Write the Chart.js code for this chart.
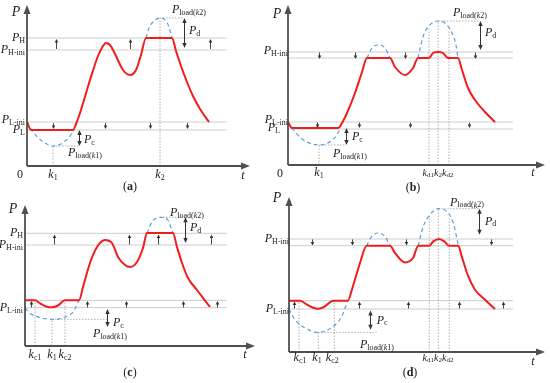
<!DOCTYPE html>
<html><head><meta charset="utf-8">
<script src="https://cdn.jsdelivr.net/npm/chart.js@4.4.1/dist/chart.umd.min.js"></script>
<style>
html,body{margin:0;padding:0;background:#fff;}
#wrap{position:relative;width:550px;height:383px;overflow:hidden;background:#fff;}
canvas{position:absolute;left:0;top:0;}
</style></head><body><div id="wrap">
<canvas id="cA" width="550" height="383"></canvas>
<canvas id="cB" width="550" height="383"></canvas>
<canvas id="cC" width="550" height="383"></canvas>
<canvas id="cD" width="550" height="383"></canvas>
</div>
<script>
// ---------- data (t, P) ----------
// panel (a)
const redA = [[0,44],[4,36],[46,36],[49,42],[53,53],[63,86],[71,110],[76,120],[79,123],[83,121],[89,110],[96,96],[103,91],[109,96],[114,111],[119,128],[145,128],[149,115],[154,100],[160,84],[166,70],[173,57],[182,44]];
const blueA1 = [[0,44],[7,33],[15,25],[26,20],[37,24],[45,33],[50,45]];
const blueA2 = [[119,128],[122,138],[127,145],[133,148],[138,146],[142,139],[145,128]];
const levelsA = [128,116,44,36];
const upArrowsA = [29,103,183];
const lowArrowsA = [26,78,123,160];
// panel (b)
const redB = [[0,43],[4,37],[50,37],[54,42],[59,52],[67,72],[74,93],[79,107],[102,107],[107,98],[117,90],[125,97],[130,107],[141,107],[145,112],[150,113],[155,112],[160,107],[170,107],[174,95],[180,77],[187,65],[197,53],[207,43]];
const blueB1 = [[0,43],[7,33],[17,24],[31,20],[43,24],[50,32],[54,42]];
const blueB2 = [[79,107],[84,117],[90,120],[97,117],[102,107]];
const blueB3 = [[130,107],[135,128],[140,138],[150,144],[157,142],[164,132],[168,120],[170,107]];
const levelsB = [113,107,43,36];
const upArrowsB = [31,67,117,187];
const lowArrowsB = [29,71,122,181];
// panel (c)
const redC = [[0,45.7],[10,45.7],[15,42.7],[22,39.3],[27,38.7],[33,40.5],[40,45.7],[54,45.7],[58,59],[65,83],[72,99],[80,106],[87,103],[93,89],[100,81],[105,79],[112,84],[118,98],[122,113],[148,113],[152,99],[157,83],[163,68],[172,56],[185,39]];
const blueC1 = [[0,37.7],[6,32],[15,28.5],[27,26.7],[39,28.5],[48,34],[54,45.7]];
const blueC2 = [[122,113],[127,124],[135,128.7],[142,127],[148,113]];
const levelsC = [112.7,101,45.7,38.3];
const upArrowsC = [29.3,104.3,133.3,185.7];
const lowArrowsC = [5.7,61.7,101,158.3,192.3];
// panel (d)
const redD = [[0,51.3],[11,51.3],[18,47.3],[24,44.3],[29.3,43.3],[35,45],[44.3,51.3],[58.7,51.3],[64,66],[71,89],[77.7,106.3],[101,106.3],[106,99],[116,89.6],[124,94],[129.3,106.3],[140.3,106.3],[144.3,110.6],[150,113],[155.3,110.6],[160,106.3],[169.3,106.3],[172.7,95.6],[179.3,75.6],[186,62.3],[196,52.3],[206,43]];
const blueD1 = [[0,43],[6,32.3],[16,24],[29.3,19.6],[44.3,25.6],[52.7,35.6],[58.7,51.3]];
const blueD2 = [[77.7,106.3],[82.7,115.6],[89.3,119],[96,115.6],[101,106.3]];
const blueD3 = [[129.3,106.3],[134.3,125.6],[141,137.3],[149.3,143.3],[157.7,140.6],[164.3,129],[169.3,106.3]];
const levelsD = [113,106.3,51.3,43];
const upArrowsD = [22.7,62.7,116.7,202];
const lowArrowsD = [5.3,70,118.7,170.3,213.7];

// ---------- text helpers ----------
const SERIF = '"Liberation Serif","Times New Roman",serif';
const Psub = s => [['P','i'],[s,'s']];
const Pload = n => [['P','i'],['load(','s'],['k','si'],[n+')','s']];
const kk = s => [['k','i'],[s,'s']];
const kd = [['k','i'],['d1','s'],['k','i'],['2','s'],['k','i'],['d2','s']];
const cap = c => [['(','n'],[c,'b'],[')','n']];

function drawRich(ctx, parts, x, y, align, size) {
  const m = size || 12, sb = Math.round(m*0.66);
  const f = {i:`italic ${m}px ${SERIF}`, n:`${m}px ${SERIF}`, b:`bold ${m}px ${SERIF}`,
             s:`${sb}px ${SERIF}`, si:`italic ${sb}px ${SERIF}`};
  let w = 0;
  for (const [t,s] of parts) { ctx.font = f[s]; w += ctx.measureText(t).width; }
  let cx = align==='right' ? x-w : align==='center' ? x-w/2 : x;
  ctx.textBaseline = 'middle'; ctx.textAlign = 'left'; ctx.fillStyle = '#222';
  for (const [t,s] of parts) {
    ctx.font = f[s];
    const dy = (s==='s'||s==='si') ? m*0.25 : 0;
    ctx.fillText(t, cx, y+dy);
    cx += ctx.measureText(t).width;
  }
}
function head(ctx, x, y, dir, len, hw) {
  ctx.beginPath();
  if (dir==='up') { ctx.moveTo(x,y); ctx.lineTo(x-hw,y+len); ctx.lineTo(x+hw,y+len); }
  else if (dir==='down') { ctx.moveTo(x,y); ctx.lineTo(x-hw,y-len); ctx.lineTo(x+hw,y-len); }
  else { ctx.moveTo(x,y); ctx.lineTo(x-len,y-hw); ctx.lineTo(x-len,y+hw); }
  ctx.closePath(); ctx.fill();
}

const pts = a => a.map(([x,y]) => ({x, y}));

function makePanel(id, cfg) {
  const ds = [];
  ds.push({data: pts(cfg.red), borderColor:'#f21c1c', borderWidth:2, cubicInterpolationMode:'monotone', order:0});
  cfg.blues.forEach(b => ds.push({data: pts(b), borderColor:'#5a9fd8', borderWidth:1.2, borderDash:[4,3], cubicInterpolationMode:'monotone', order:1}));
  cfg.levels.forEach(l => ds.push({data:[{x:0,y:l},{x:cfg.levelEnd,y:l}], borderColor:'#cdcdcd', borderWidth:1, order:3}));
  cfg.vdots.forEach(([t,p]) => ds.push({data:[{x:t,y:0},{x:t,y:p}], borderColor:'#9a9a9a', borderWidth:0.8, borderDash:[1.5,1.5], order:2}));
  cfg.hdots.forEach(([t1,t2,p]) => ds.push({data:[{x:t1,y:p},{x:t2,y:p}], borderColor:'#9a9a9a', borderWidth:0.8, borderDash:[1.5,1.5], order:2}));
  ds.forEach(d => { d.pointRadius = 0; d.fill = false; d.clip = false; });

  const deco = {
    id: 'deco'+id,
    afterDatasetsDraw(chart) {
      const ctx = chart.ctx, xs = chart.scales.x, ys = chart.scales.y;
      const X = v => xs.getPixelForValue(v), Y = v => ys.getPixelForValue(v);
      ctx.save();
      // axes
      ctx.strokeStyle = '#4f4f4f'; ctx.fillStyle = '#4f4f4f'; ctx.lineWidth = 1.8;
      const x0 = X(0), y0 = Y(0), xe = X(cfg.xmax), ye = Y(cfg.ymax);
      ctx.beginPath(); ctx.moveTo(x0, y0); ctx.lineTo(x0, ye+7); ctx.stroke();
      head(ctx, x0, ye, 'up', 9, 3.5);
      ctx.beginPath(); ctx.moveTo(x0, y0); ctx.lineTo(xe-7, y0); ctx.stroke();
      head(ctx, xe, y0, 'right', 9, 3.5);
      // small arrows in the bands
      ctx.strokeStyle = '#333'; ctx.fillStyle = '#333'; ctx.lineWidth = 0.9;
      cfg.bands.forEach(b => {
        const dir = b.to > b.from ? 'up' : 'down';
        b.ts.forEach(t => {
          const xa = Math.round(X(t))+0.5, ya = Y(b.from), yb = Y(b.to);
          ctx.beginPath(); ctx.moveTo(xa, ya); ctx.lineTo(xa, dir==='up'? yb+2 : yb-2); ctx.stroke();
          head(ctx, xa, yb, dir, 3.5, 1.8);
        });
      });
      // double arrows (P_c, P_d)
      ctx.strokeStyle = '#333'; ctx.fillStyle = '#333'; ctx.lineWidth = 1;
      cfg.dbl.forEach(([t,p1,p2]) => {
        const xa = Math.round(X(t))+0.5, ya = Y(p1), yb = Y(p2);
        const top = Math.min(ya,yb), bot = Math.max(ya,yb);
        ctx.beginPath(); ctx.moveTo(xa, top+3); ctx.lineTo(xa, bot-3); ctx.stroke();
        head(ctx, xa, top, 'up', 5, 2.2); head(ctx, xa, bot, 'down', 5, 2.2);
      });
      // labels
      cfg.labels.forEach(([parts,t,p,al,sz]) => drawRich(ctx, parts, X(t), Y(p), al, sz));
      ctx.restore();
    }
  };

  new Chart(document.getElementById(id), {
    type: 'line',
    data: {datasets: ds},
    options: {
      responsive:false, animation:false, events:[],
      layout:{padding: cfg.pad},
      scales:{ x:{type:'linear', min:0, max:cfg.xmax, display:false},
               y:{type:'linear', min:0, max:cfg.ymax, display:false} },
      plugins:{legend:{display:false}, tooltip:{enabled:false}}
    },
    plugins:[deco]
  });
}

makePanel('cA', {
  pad:{left:27,right:300,top:5,bottom:217}, xmax:223, ymax:161,
  red:redA, blues:[blueA1,blueA2], levels:levelsA, levelEnd:200,
  bands:[{ts:upArrowsA, from:117, to:127},{ts:lowArrowsA, from:43, to:37}],
  vdots:[[26,20],[133,148]], hdots:[[26,52,20],[133,157,148]], dbl:[[52,36,20],[157,148,118]],
  labels:[
    [[['P','i']],-11,154,'center',14],
    [Psub('H'),-2,128,'right'],[Psub('H-ini'),-2,116,'right'],
    [Psub('L-ini'),-2,46,'right'],[Psub('L'),-2,36,'right'],
    [[['0','n']],-7,-9,'center'],
    [kk('1'),26,-9,'center'],[kk('2'),133,-9,'center'],
    [[['t','i']],216,-10,'center'],
    [Psub('c'),57,26,'left'],[Pload('1'),41,13,'left'],
    [Pload('2'),145,156,'left'],[Psub('d'),162,135,'left'],
    [cap('a'),103,-21,'center']
  ]
});
makePanel('cB', {
  pad:{left:288,right:5,top:5,bottom:218}, xmax:257, ymax:160,
  red:redB, blues:[blueB1,blueB2,blueB3], levels:levelsB, levelEnd:225,
  bands:[{ts:upArrowsB, from:112.5, to:106},{ts:lowArrowsB, from:42.5, to:37}],
  vdots:[[31,20],[141,138],[150,144],[161,136]], hdots:[[31,58,20],[150,192,144]], dbl:[[58,37,20],[192,144,115]],
  labels:[
    [[['P','i']],-11,151,'center',14],
    [Psub('H-ini'),0,114,'right'],
    [Psub('L-ini'),0,45,'right'],[Psub('L'),-8,37,'right'],
    [[['0','n']],-8,-9,'center'],
    [kk('1'),31,-8,'center'],[kd,150,-8,'center',10],
    [[['t','i']],245,-8,'center'],
    [Psub('c'),64,28,'left'],[Pload('1'),45,11,'left'],
    [Pload('2'),165,152,'left'],[Psub('d'),197,132,'left'],
    [cap('b'),125,-23,'center']
  ]
});
makePanel('cC', {
  pad:{left:25,right:295,top:205,bottom:37}, xmax:230, ymax:141,
  red:redC, blues:[blueC1,blueC2], levels:levelsC, levelEnd:202,
  bands:[{ts:upArrowsC, from:101.5, to:111.5},{ts:lowArrowsC, from:38.5, to:45}],
  vdots:[[10,45.7],[27,26.7],[40,45.7]], hdots:[[27,82,26.7],[135,160,128.7]], dbl:[[82,37,19],[160,128.7,103]],
  labels:[
    [[['P','i']],-12,137,'center',14],
    [Psub('H'),-2,113,'right'],[Psub('H-ini'),-2,101,'right'],
    [Psub('L-ini'),-2,38,'right'],
    [kk('c1'),10,-9,'center'],[kk('1'),27,-9,'center'],[kk('c2'),40,-9,'center'],
    [[['t','i']],220,-9,'center'],
    [Psub('c'),88,23,'left'],[Pload('1'),68,12,'left'],
    [Pload('2'),145,133,'left'],[Psub('d'),165,118,'left'],
    [cap('c'),105,-27,'center']
  ]
});
makePanel('cD', {
  pad:{left:289,right:5,top:197,bottom:31}, xmax:256, ymax:155,
  red:redD, blues:[blueD1,blueD2,blueD3], levels:levelsD, levelEnd:224,
  bands:[{ts:upArrowsD, from:112.6, to:106.6},{ts:lowArrowsD, from:43.5, to:50.6}],
  vdots:[[10,51.3],[29.3,19.6],[45.3,51.3],[140.3,137],[149.3,143.3],[160.3,135]],
  hdots:[[29.3,87.7,19.6],[149.3,190,143.3]], dbl:[[81,41.6,22.3],[190,143.3,117.3]],
  labels:[
    [[['P','i']],-12,154,'center',14],
    [Psub('H-ini'),0,113,'right'],
    [Psub('L-ini'),0,43,'right'],
    [kk('c1'),11,-6,'center'],[kk('1'),28,-6,'center'],[kk('c2'),43.3,-6,'center'],
    [kd,149,-6,'center',10],
    [[['t','i']],244,-10,'center'],
    [Psub('c'),87.7,31.6,'left'],[Pload('1'),71,7.3,'left'],
    [Pload('2'),161,149.6,'left'],[Psub('d'),196,130.6,'left'],
    [cap('d'),121,-21,'center']
  ]
});
</script></body></html>
